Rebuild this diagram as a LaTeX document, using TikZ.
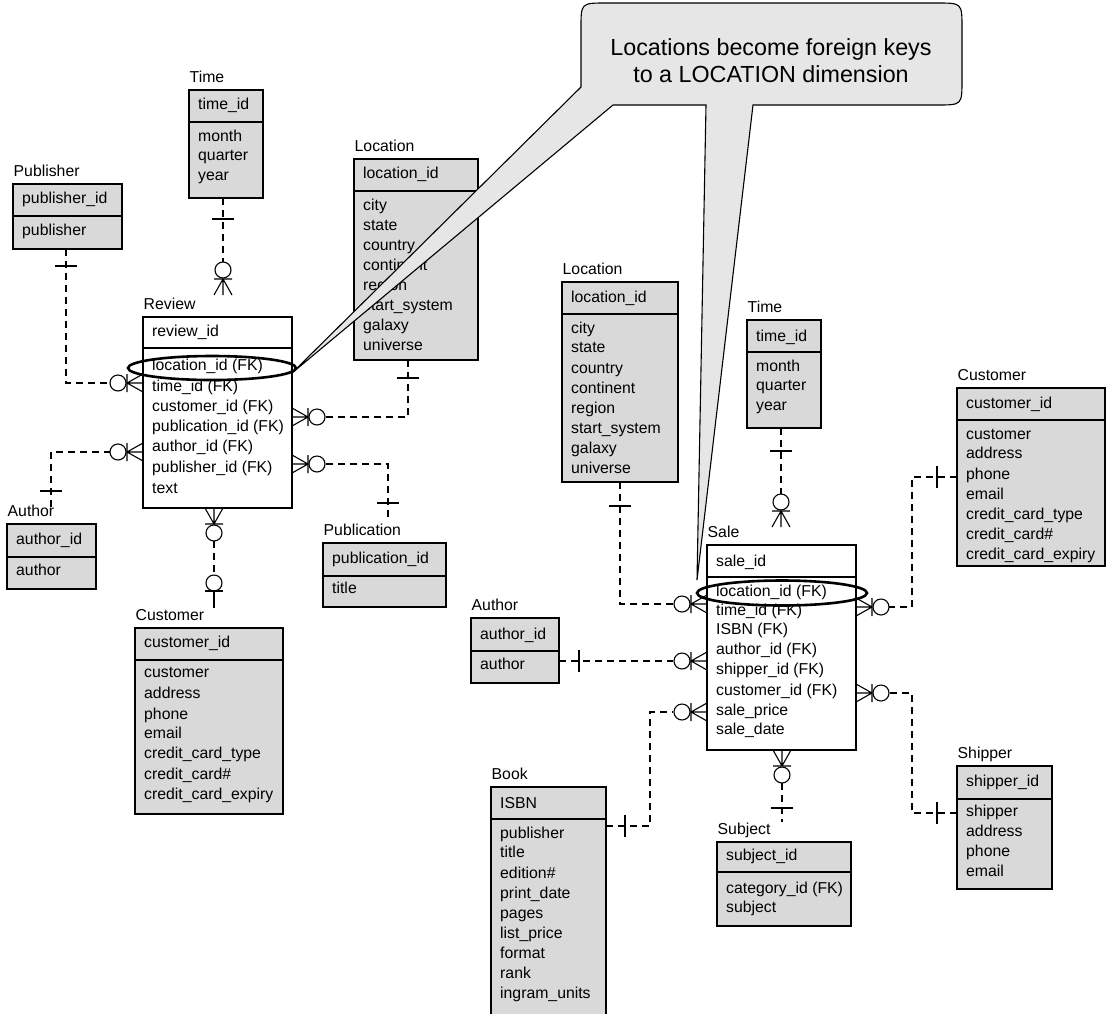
\documentclass[tikz,border=0pt]{standalone}
\usepackage{fontspec}
\setmainfont{Liberation Sans}
\usetikzlibrary{calc}
\definecolor{tgray}{HTML}{D9D9D9}
\definecolor{cgray}{HTML}{E6E6E6}
\tikzset{
  tbox/.style={draw, line width=1.3pt, inner sep=0pt, outer sep=0pt, rectangle},
  tline/.style={line width=1.3pt},
  txt/.style={font=\fontsize{15.8}{18}\selectfont, inner sep=0pt, anchor=mid west},
  conn/.style={line width=1.1pt, dash pattern=on 7pt off 5pt},
  endsym/.style={line width=1.1pt, solid},
  tick/.style={line width=1.1pt, solid},
  hl/.style={line width=2.6pt},
  callout/.style={draw, line width=1.1pt, fill=cgray},
  manyopt/.pic={
    \draw[endsym] (0,-9) -- (16,0) -- (0,9) (0,0) -- (16,0) (16,-9) -- (16,9);
    \draw[endsym] (25,0) circle[radius=8];
  },
  zeroone/.pic={
    \draw[endsym] (0,0) -- (17,0) (17,-9) -- (17,9);
    \draw[endsym] (25,0) circle[radius=8];
  }
}
\newcommand\ertable[8]{%
  \node[tbox, fill=#7, minimum width={#4-#2}, minimum height={#6-#3}, anchor=north west] (#1) at (#2,#3) {};
  \draw[tline] (#2,#5) -- (#4,#5);
  \node[txt] (#1-lbl) at (#2+0.5,#3-10) {#8};
}
\newcommand\ertrows[3]{%
  \foreach \yy/\rt [count=\i] in {#3} {\node[txt] (#1-\i) at (#2,\yy+1) {\rt};}
}
\begin{document}
\begin{tikzpicture}[x=1pt,y=-1pt]
\useasboundingbox (0,0) rectangle (1106,1013);
\clip (0,0) rectangle (1106,1013);
\fill[white] (0,0) rectangle (1106,1013);

% ---------- tables ----------
\ertable{timeA}{189}{90}{263}{122}{198}{tgray}{Time}
\ertrows{timeA}{198}{106/time\_id, 138/month, 157/quarter, 177/year}

\ertable{pubA}{13}{184}{122}{216}{249}{tgray}{Publisher}
\ertrows{pubA}{22}{200/publisher\_id, 232/publisher}

\ertable{review}{143}{317}{292}{348}{508}{white}{Review}
\ertrows{review}{152}{333/review\_id, 367/location\_id (FK), 388/time\_id (FK), 408/customer\_id (FK), 428/publication\_id (FK), 448/author\_id (FK), 469/publisher\_id (FK), 490/text}

\ertable{locA}{354}{159}{478}{191}{360}{tgray}{Location}
\ertrows{locA}{363}{175/location\_id, 207/city, 227/state, 247/country, 267/continent, 287/region, 307/start\_system, 327/galaxy, 347/universe}

\ertable{authA}{7}{524}{96}{557}{589}{tgray}{Author}
\ertrows{authA}{16}{541/author\_id, 572/author}

\ertable{custA}{135}{628}{283}{660}{814}{tgray}{Customer}
\ertrows{custA}{144}{644/customer\_id, 674/customer, 695/address, 716/phone, 735/email, 755/credit\_card\_type, 776/credit\_card\#, 796/credit\_card\_expiry}

\ertable{pubn}{323}{543}{446}{576}{607}{tgray}{Publication}
\ertrows{pubn}{332}{560/publication\_id, 590/title}

\ertable{locB}{562}{282}{678}{314}{482}{tgray}{Location}
\ertrows{locB}{571}{299/location\_id, 330/city, 349/state, 370/country, 390/continent, 410/region, 430/start\_system, 450/galaxy, 470/universe}

\ertable{timeB}{747}{320}{821}{352}{428}{tgray}{Time}
\ertrows{timeB}{756}{338/time\_id, 368/month, 387/quarter, 407/year}

\ertable{sale}{707}{545}{856}{577}{750}{white}{Sale}
\ertrows{sale}{716}{563/sale\_id, 593/location\_id (FK), 612/time\_id (FK), 631/ISBN (FK), 651/author\_id (FK), 671/shipper\_id (FK), 692/customer\_id (FK), 712/sale\_price, 731/sale\_date}

\ertable{authB}{471}{618}{559}{651}{683}{tgray}{Author}
\ertrows{authB}{480}{636/author\_id, 666/author}

\ertable{custB}{957}{388}{1105}{420}{566}{tgray}{Customer}
\ertrows{custB}{966}{405/customer\_id, 436/customer, 455/address, 476/phone, 496/email, 516/credit\_card\_type, 536/credit\_card\#, 556/credit\_card\_expiry}

\ertable{ship}{957}{766}{1052}{799}{889}{tgray}{Shipper}
\ertrows{ship}{966}{783/shipper\_id, 813/shipper, 833/address, 853/phone, 873/email}

\ertable{book}{491}{787}{606}{819}{1030}{tgray}{Book}
\ertrows{book}{500}{805/ISBN, 835/publisher, 854/title, 875/edition\#, 895/print\_date, 915/pages, 935/list\_price, 955/format, 975/rank, 995/ingram\_units}

\ertable{subj}{717}{842}{851}{872}{926}{tgray}{Subject}
\ertrows{subj}{726}{857/subject\_id, 890/category\_id (FK), 909/subject}

% ---------- connectors ----------
% Publisher -> Review
\coordinate (c1s) at (66,249); \coordinate (c1e) at (110,383);
\draw[conn] (c1s) |- (c1e);
\draw[tick] (55,266) -- (77,266);
\pic[rotate=180] at (143,383) {manyopt};
% Time -> Review
\coordinate (c2s) at (223,198); \coordinate (c2e) at (223,262);
\draw[conn] (c2s) -- (c2e);
\draw[tick] (212,219) -- (234,219);
\pic[rotate=90] at (223,295) {manyopt};
% Location -> Review
\coordinate (c3s) at (408,360); \coordinate (c3e) at (325,417);
\draw[conn] (c3s) |- (c3e);
\draw[tick] (397,378) -- (419,378);
\pic at (292,417) {manyopt};
% Publication -> Review
\coordinate (c4s) at (388,517); \coordinate (c4e) at (325,464);
\draw[conn] (c4s) |- (c4e);
\draw[tick] (377,503) -- (399,503);
\pic at (292,464) {manyopt};
% Author -> Review
\coordinate (c5s) at (51,507); \coordinate (c5e) at (110,452);
\draw[conn] (c5s) |- (c5e);
\draw[tick] (40,491) -- (62,491);
\pic[rotate=180] at (143,452) {manyopt};
% Review -> Customer
\pic[rotate=-90] at (214,508) {manyopt};
\coordinate (c6s) at (214,541); \coordinate (c6e) at (214,575);
\draw[conn] (c6s) -- (c6e);
\pic[rotate=90] at (214,608) {zeroone};
% Location -> Sale
\coordinate (c7s) at (620,482); \coordinate (c7e) at (673,604);
\draw[conn] (c7s) |- (c7e);
\draw[tick] (609,506) -- (631,506);
\pic[rotate=180] at (707,604) {manyopt};
% Author -> Sale
\coordinate (c8s) at (559,661); \coordinate (c8e) at (673,661);
\draw[conn] (c8s) -- (c8e);
\draw[tick] (579,650) -- (579,672);
\pic[rotate=180] at (707,661) {manyopt};
% Book -> Sale
\coordinate (c9s) at (606,826); \coordinate (c9m) at (650,712); \coordinate (c9e) at (673,712);
\draw[conn] (c9s) -| (c9m) -- (c9e);
\draw[tick] (625,815) -- (625,837);
\pic[rotate=180] at (707,712) {manyopt};
% Time -> Sale
\coordinate (c10s) at (781,428); \coordinate (c10e) at (781,494);
\draw[conn] (c10s) -- (c10e);
\draw[tick] (770,451) -- (792,451);
\pic[rotate=90] at (781,527) {manyopt};
% Customer -> Sale
\coordinate (c11s) at (957,477); \coordinate (c11m) at (912,607); \coordinate (c11e) at (889,607);
\draw[conn] (c11s) -| (c11m) -- (c11e);
\draw[tick] (937,466) -- (937,488);
\pic at (856,607) {manyopt};
% Shipper -> Sale
\coordinate (c12s) at (957,813); \coordinate (c12m) at (912,693); \coordinate (c12e) at (889,693);
\draw[conn] (c12s) -| (c12m) -- (c12e);
\draw[tick] (937,802) -- (937,824);
\pic at (856,693) {manyopt};
% Sale -> Subject
\pic[rotate=-90] at (782,750) {manyopt};
\coordinate (c13s) at (782,783); \coordinate (c13e) at (782,822);
\draw[conn] (c13s) -- (c13e);
\draw[tick] (771,808) -- (793,808);

% ---------- callout ----------
\draw[callout] (581,87) -- (292,373) -- (613,105) -- (706,105) -- (697,580) -- (753,105)
  -- (937,105) .. controls (962,105) .. (962,80) -- (962,28) .. controls (962,3) .. (937,3)
  -- (606,3) .. controls (581,3) .. (581,28) -- cycle;
\node[font=\fontsize{23.3}{27}\selectfont, align=center, inner sep=0pt] (calltext) at (771,61)
  {Locations become foreign keys\\to a LOCATION dimension};

% ---------- highlight ellipses ----------
\draw[hl] (212,368) ellipse[x radius=84, y radius=12];
\draw[hl] (782,593) ellipse[x radius=85, y radius=12.5];
\end{tikzpicture}
\end{document}
